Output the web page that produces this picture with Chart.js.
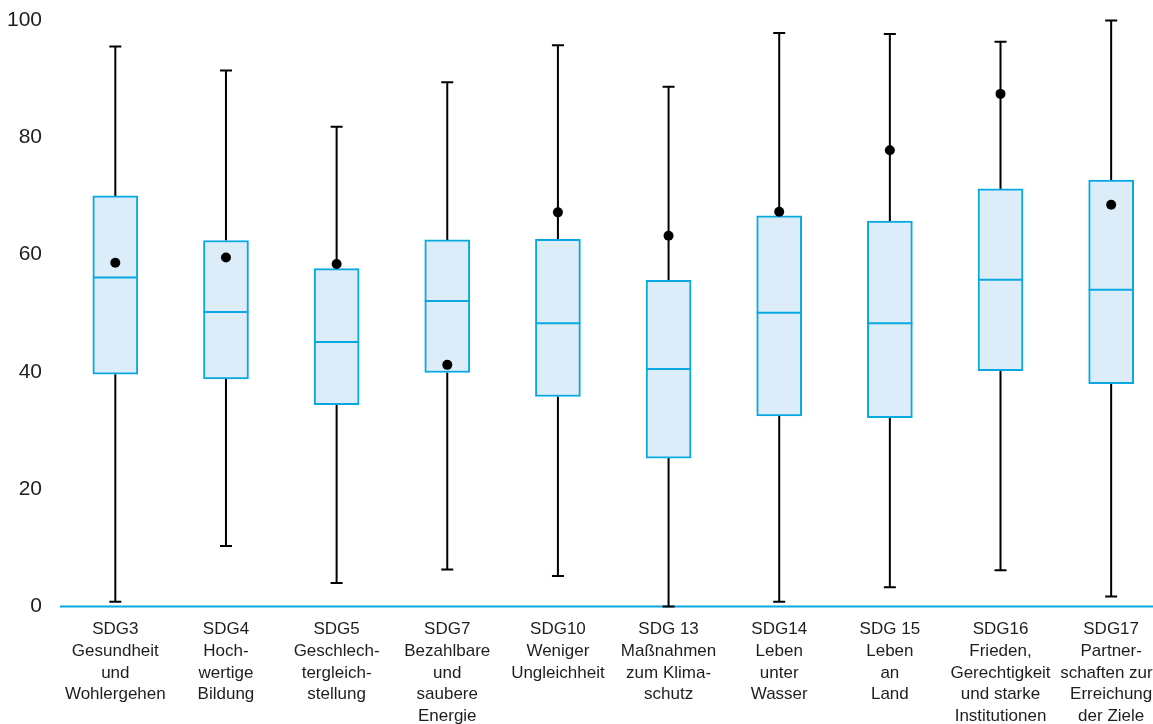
<!DOCTYPE html>
<html>
<head>
<meta charset="utf-8">
<script src="https://cdn.jsdelivr.net/npm/chart.js@4.4.1/dist/chart.umd.min.js"></script>
<style>
  html, body { margin: 0; padding: 0; background: #ffffff; overflow: hidden; }
  #wrap { width: 1153px; height: 724px; position: relative; }
</style>
</head>
<body>
<div id="wrap"><canvas id="c" width="1153" height="724"></canvas></div>
<script>
const categories = [
  ["SDG3", "Gesundheit", "und", "Wohlergehen"],
  ["SDG4", "Hoch-", "wertige", "Bildung"],
  ["SDG5", "Geschlech-", "tergleich-", "stellung"],
  ["SDG7", "Bezahlbare", "und", "saubere", "Energie"],
  ["SDG10", "Weniger", "Ungleichheit"],
  ["SDG 13", "Maßnahmen", "zum Klima-", "schutz"],
  ["SDG14", "Leben", "unter", "Wasser"],
  ["SDG 15", "Leben", "an", "Land"],
  ["SDG16", "Frieden,", "Gerechtigkeit", "und starke", "Institutionen"],
  ["SDG17", "Partner-", "schaften zur\u00A0\u00A0", "Erreichung", "der Ziele"]
];
const minValues    = [0.8, 10.3, 4.0, 6.3, 5.2, 0.0, 0.8, 3.3, 6.2, 1.7];
const q1Values     = [39.6, 38.8, 34.4, 39.9, 35.8, 25.3, 32.5, 32.2, 40.2, 38.0];
const medianValues = [56.1, 50.2, 45.1, 52.1, 48.3, 40.5, 50.1, 48.3, 55.7, 54.0];
const q3Values     = [70.0, 62.4, 57.6, 62.5, 62.6, 55.6, 66.6, 65.7, 71.2, 72.7];
const maxValues    = [95.5, 91.4, 81.8, 89.4, 95.7, 88.6, 97.8, 97.6, 96.3, 99.9];
const dotValues    = [58.6, 59.5, 58.4, 41.2, 67.2, 63.2, 67.3, 77.8, 87.4, 68.5];
const yTicks       = [0, 20, 40, 60, 80, 100];

const BLUE = '#0aa8e2';
const FILL = '#dcedf9';
const FONT = "'Liberation Sans', Arial, sans-serif";

const boxData = categories.map((c, i) => ({ x: i, y: [q1Values[i], q3Values[i]] }));
const dotData = categories.map((c, i) => ({ x: i, y: dotValues[i] }));

const boxPlugin = {
  id: 'boxparts',
  beforeDatasetsDraw(chart) {
    const { ctx, chartArea, scales: { x, y } } = chart;
    ctx.save();
    // baseline (x axis line) running to the right edge
    ctx.strokeStyle = BLUE;
    ctx.lineWidth = 2;
    const y0 = y.getPixelForValue(0);
    ctx.beginPath();
    ctx.moveTo(chartArea.left, y0);
    ctx.lineTo(chart.width, y0);
    ctx.stroke();
    // whiskers and caps
    ctx.strokeStyle = '#000';
    ctx.lineWidth = 2;
    categories.forEach((c, i) => {
      const px = x.getPixelForValue(i);
      const cap = 6;
      ctx.beginPath();
      ctx.moveTo(px, y.getPixelForValue(maxValues[i]));
      ctx.lineTo(px, y.getPixelForValue(q3Values[i]));
      ctx.moveTo(px, y.getPixelForValue(q1Values[i]));
      ctx.lineTo(px, y.getPixelForValue(minValues[i]));
      ctx.moveTo(px - cap, y.getPixelForValue(maxValues[i]));
      ctx.lineTo(px + cap, y.getPixelForValue(maxValues[i]));
      ctx.moveTo(px - cap, y.getPixelForValue(minValues[i]));
      ctx.lineTo(px + cap, y.getPixelForValue(minValues[i]));
      ctx.stroke();
    });
    ctx.restore();
  },
  afterDatasetDraw(chart, args) {
    if (args.index !== 0) return;
    const { ctx, scales: { x, y } } = chart;
    const meta = chart.getDatasetMeta(0);
    ctx.save();
    ctx.strokeStyle = BLUE;
    ctx.lineWidth = 2;
    categories.forEach((c, i) => {
      const bar = meta.data[i];
      const half = bar.width / 2;
      const px = x.getPixelForValue(i);
      const py = y.getPixelForValue(medianValues[i]);
      ctx.beginPath();
      ctx.moveTo(px - half, py);
      ctx.lineTo(px + half, py);
      ctx.stroke();
    });
    ctx.restore();
  }
};

new Chart(document.getElementById('c'), {
  data: {
    datasets: [
      {
        type: 'bar',
        data: boxData,
        backgroundColor: FILL,
        borderColor: BLUE,
        borderWidth: 2,
        borderSkipped: false,
        barThickness: 45,
        order: 2
      },
      {
        type: 'scatter',
        data: dotData,
        pointRadius: 5,
        pointHoverRadius: 5,
        pointBackgroundColor: '#000',
        pointBorderWidth: 0,
        showLine: false,
        order: 1,
        clip: false
      }
    ]
  },
  options: {
    responsive: false,
    animation: false,
    events: [],
    layout: { padding: { top: 20, left: 0, right: 0, bottom: 0 } },
    plugins: { legend: { display: false }, tooltip: { enabled: false } },
    scales: {
      x: {
        type: 'linear',
        offset: false,
        min: -0.5,
        max: 9.333,
        grid: { display: false, drawTicks: false },
        border: { display: false },
        afterBuildTicks(scale) {
          scale.ticks = categories.map((c, i) => ({ value: i }));
        },
        afterFit(scale) {
          scale.paddingLeft = 0;
          scale.paddingRight = 0;
          scale.height = 117.5;
        },
        ticks: {
          autoSkip: false,
          maxRotation: 0,
          minRotation: 0,
          padding: 12,
          color: '#1e1e1e',
          font: { family: FONT, size: 17, lineHeight: 1.28 },
          callback: (v) => categories[v] || ''
        }
      },
      y: {
        min: 0,
        max: 100,
        grid: { display: false, drawTicks: false },
        border: { display: false },
        afterBuildTicks(scale) {
          scale.ticks = yTicks.map(v => ({ value: v }));
        },
        afterFit(scale) {
          scale.width = 60;
          scale.paddingTop = 0;
          scale.paddingBottom = 0;
        },
        ticks: {
          padding: 18,
          color: '#1e1e1e',
          font: { family: FONT, size: 21 }
        }
      }
    }
  },
  plugins: [boxPlugin]
});
</script>
</body>
</html>
